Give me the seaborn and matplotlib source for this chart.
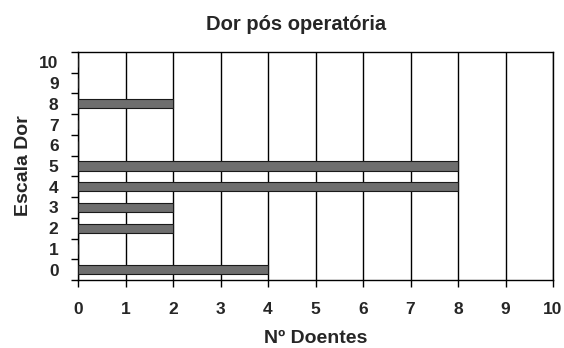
import matplotlib
matplotlib.use("Agg")
import matplotlib.pyplot as plt
import seaborn as sns
import pandas as pd
import numpy as np

# Pain scale scores and number of patients per score
scores = [0, 1, 2, 3, 4, 5, 6, 7, 8, 9, 10]
patients = [4, 0, 2, 2, 8, 8, 0, 0, 2, 0, 0]
x_ticks = [0, 1, 2, 3, 4, 5, 6, 7, 8, 9, 10]

df = pd.DataFrame({"Escala Dor": scores, "Nº Doentes": patients})

sns.set_theme(style="white")
plt.rcParams["font.family"] = ["Liberation Sans", "DejaVu Sans"]
plt.rcParams["font.weight"] = "bold"

fig = plt.figure(figsize=(5.64, 3.48), dpi=100)
ax = fig.add_axes([78 / 564, 68 / 348, 475 / 564, 228 / 348])

order = scores[::-1]
sns.barplot(data=df, x="Nº Doentes", y="Escala Dor", orient="h",
            order=order, color="#6e6e6e", saturation=1, width=0.45,
            edgecolor="#1a1a1a", linewidth=0.8, ax=ax, zorder=3)

n = len(scores)
ax.set_xlim(0, 10)
ax.set_ylim(n - 0.5, -0.5)

# vertical gridlines
ax.set_xticks(x_ticks)
ax.set_xticklabels([str(v) for v in x_ticks], fontsize=12.5, fontweight="bold")
for v in x_ticks:
    ax.axvline(v, color="black", linewidth=1.0, zorder=1)

# category boundaries as ticks, labels centred between them
ax.set_yticks(np.arange(-0.5, n, 1.0))
ax.set_yticklabels([])
ax.set_yticks(np.arange(n), minor=True)
ax.set_yticklabels([str(s) for s in order], minor=True, fontsize=12.5,
                   fontweight="bold")
ax.tick_params(axis="y", which="major", length=5, width=1, color="black",
               direction="out", left=True)
ax.tick_params(axis="y", which="minor", length=0, pad=14, left=True)
ax.tick_params(axis="x", which="major", length=5, width=1, color="black",
               direction="out", bottom=True, pad=11)

for s in ax.spines.values():
    s.set_color("black")
    s.set_linewidth(1.0)
    s.set_visible(True)

ax.set_xlabel("Nº Doentes", fontsize=14, fontweight="bold", labelpad=9)
ax.set_ylabel("Escala Dor", fontsize=14, fontweight="bold", labelpad=5)

fig.text(296 / 564, 1 - 25 / 348, "Dor pós operatória", ha="center",
         va="center", fontsize=14.5, fontweight="bold")

fig.savefig("out.png", dpi=100, facecolor="white")
